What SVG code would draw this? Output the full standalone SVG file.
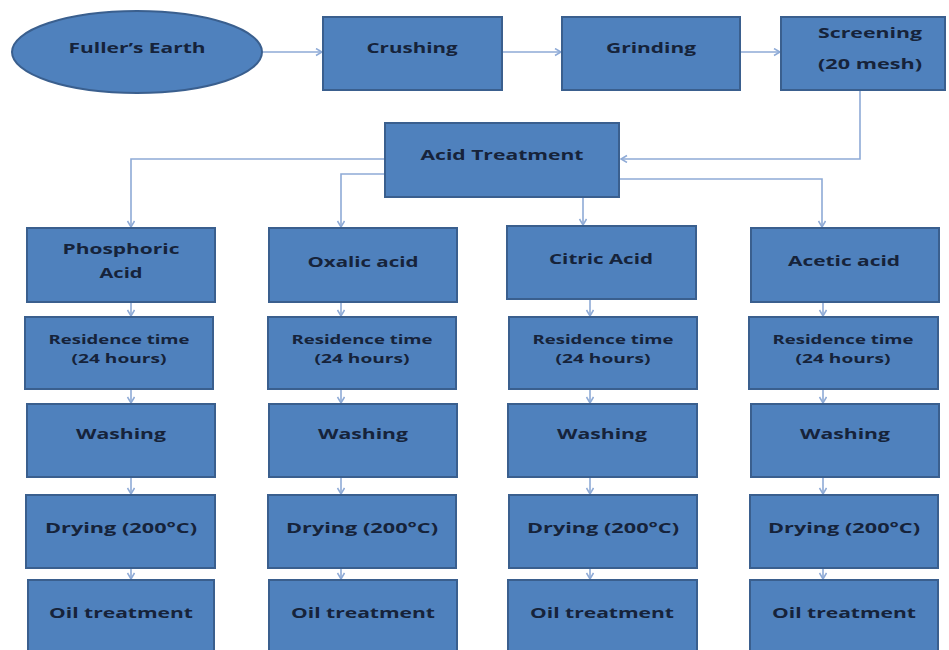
<svg xmlns="http://www.w3.org/2000/svg" width="949" height="650" viewBox="0 0 949 650">
<defs>
<marker id="ah" markerWidth="10" markerHeight="10" refX="7" refY="4" orient="auto" markerUnits="userSpaceOnUse">
<path d="M1,0.5 L7,4 L1,7.5" fill="none" stroke="#8eaad6" stroke-width="1.5"/>
</marker>
<style>
.b{fill:#4f81bd;stroke:#3a5f8e;stroke-width:2}
.t{font-family:"Open Sans","Liberation Sans",sans-serif;font-weight:700;font-size:15px;fill:#16233a;text-anchor:middle}
.s{font-size:13px}
.c{fill:none;stroke:#8eaad6;stroke-width:1.6;marker-end:url(#ah)}
</style>
</defs>
<rect width="949" height="650" fill="#ffffff"/>
<g id="connectors">
<path class="c" d="M263,52 L322,52"/>
<path class="c" d="M502,52 L561,52"/>
<path class="c" d="M740,52 L780,52"/>
<path class="c" d="M860,90 L860,159 L621,159"/>
<path class="c" d="M385,159 L131,159 L131,227"/>
<path class="c" d="M385,174 L341,174 L341,227"/>
<path class="c" d="M583,197 L583,225"/>
<path class="c" d="M619,179 L822,179 L822,227"/>
<path class="c" d="M131,302 L131,316"/>
<path class="c" d="M131,389 L131,403"/>
<path class="c" d="M131,477 L131,494"/>
<path class="c" d="M131,568 L131,579"/>
<path class="c" d="M341,302 L341,316"/>
<path class="c" d="M341,389 L341,403"/>
<path class="c" d="M341,477 L341,494"/>
<path class="c" d="M341,568 L341,579"/>
<path class="c" d="M590,299 L590,316"/>
<path class="c" d="M590,389 L590,403"/>
<path class="c" d="M590,477 L590,494"/>
<path class="c" d="M590,568 L590,579"/>
<path class="c" d="M823,302 L823,316"/>
<path class="c" d="M823,389 L823,403"/>
<path class="c" d="M823,477 L823,494"/>
<path class="c" d="M823,568 L823,579"/>
</g>
<g id="fullers-earth"><ellipse class="b" cx="137" cy="52" rx="125" ry="41"/><text class="t" x="137" y="53" textLength="137" lengthAdjust="spacingAndGlyphs">Fuller’s Earth</text></g>
<g id="crushing"><rect class="b" x="323" y="17" width="179" height="73"/><text class="t" x="412" y="53" textLength="91" lengthAdjust="spacingAndGlyphs">Crushing</text></g>
<g id="grinding"><rect class="b" x="562" y="17" width="178" height="73"/><text class="t" x="651" y="53" textLength="90" lengthAdjust="spacingAndGlyphs">Grinding</text></g>
<g id="screening"><rect class="b" x="781" y="17" width="164" height="73"/><text class="t" x="870" y="38" textLength="104" lengthAdjust="spacingAndGlyphs">Screening</text><text class="t" x="870" y="69" textLength="104" lengthAdjust="spacingAndGlyphs">(20 mesh)</text></g>
<g id="acid-treatment"><rect class="b" x="385" y="123" width="234" height="74"/><text class="t" x="502" y="160" textLength="163" lengthAdjust="spacingAndGlyphs">Acid Treatment</text></g>
<g id="phosphoric"><rect class="b" x="27" y="228" width="188" height="74"/><text class="t" x="121" y="254" textLength="117" lengthAdjust="spacingAndGlyphs">Phosphoric</text><text class="t" x="121" y="278" textLength="43" lengthAdjust="spacingAndGlyphs">Acid</text></g>
<g id="oxalic"><rect class="b" x="269" y="228" width="188" height="74"/><text class="t" x="363" y="267" textLength="111" lengthAdjust="spacingAndGlyphs">Oxalic acid</text></g>
<g id="citric"><rect class="b" x="507" y="226" width="189" height="73"/><text class="t" x="601" y="264" textLength="104" lengthAdjust="spacingAndGlyphs">Citric Acid</text></g>
<g id="acetic"><rect class="b" x="751" y="228" width="188" height="74"/><text class="t" x="844" y="266" textLength="112" lengthAdjust="spacingAndGlyphs">Acetic acid</text></g>
<g id="residence-1"><rect class="b" x="25" y="317" width="188" height="72"/><text class="t s" x="119" y="344" textLength="141" lengthAdjust="spacingAndGlyphs">Residence time</text><text class="t s" x="119" y="363" textLength="95" lengthAdjust="spacingAndGlyphs">(24 hours)</text></g>
<g id="residence-2"><rect class="b" x="268" y="317" width="188" height="72"/><text class="t s" x="362" y="344" textLength="141" lengthAdjust="spacingAndGlyphs">Residence time</text><text class="t s" x="362" y="363" textLength="95" lengthAdjust="spacingAndGlyphs">(24 hours)</text></g>
<g id="residence-3"><rect class="b" x="509" y="317" width="188" height="72"/><text class="t s" x="603" y="344" textLength="141" lengthAdjust="spacingAndGlyphs">Residence time</text><text class="t s" x="603" y="363" textLength="95" lengthAdjust="spacingAndGlyphs">(24 hours)</text></g>
<g id="residence-4"><rect class="b" x="749" y="317" width="189" height="72"/><text class="t s" x="843" y="344" textLength="141" lengthAdjust="spacingAndGlyphs">Residence time</text><text class="t s" x="843" y="363" textLength="95" lengthAdjust="spacingAndGlyphs">(24 hours)</text></g>
<g id="washing-1"><rect class="b" x="27" y="404" width="188" height="73"/><text class="t" x="121" y="439" textLength="90" lengthAdjust="spacingAndGlyphs">Washing</text></g>
<g id="washing-2"><rect class="b" x="269" y="404" width="188" height="73"/><text class="t" x="363" y="439" textLength="90" lengthAdjust="spacingAndGlyphs">Washing</text></g>
<g id="washing-3"><rect class="b" x="508" y="404" width="189" height="73"/><text class="t" x="602" y="439" textLength="90" lengthAdjust="spacingAndGlyphs">Washing</text></g>
<g id="washing-4"><rect class="b" x="751" y="404" width="188" height="73"/><text class="t" x="845" y="439" textLength="90" lengthAdjust="spacingAndGlyphs">Washing</text></g>
<g id="drying-1"><rect class="b" x="26" y="495" width="189" height="73"/><text class="t" x="121" y="533" textLength="152" lengthAdjust="spacingAndGlyphs">Drying (200°C)</text></g>
<g id="drying-2"><rect class="b" x="268" y="495" width="188" height="73"/><text class="t" x="362" y="533" textLength="152" lengthAdjust="spacingAndGlyphs">Drying (200°C)</text></g>
<g id="drying-3"><rect class="b" x="509" y="495" width="188" height="73"/><text class="t" x="603" y="533" textLength="152" lengthAdjust="spacingAndGlyphs">Drying (200°C)</text></g>
<g id="drying-4"><rect class="b" x="750" y="495" width="188" height="73"/><text class="t" x="844" y="533" textLength="152" lengthAdjust="spacingAndGlyphs">Drying (200°C)</text></g>
<g id="oil-1"><rect class="b" x="28" y="580" width="186" height="75"/><text class="t" x="121" y="618" textLength="144" lengthAdjust="spacingAndGlyphs">Oil treatment</text></g>
<g id="oil-2"><rect class="b" x="269" y="580" width="188" height="75"/><text class="t" x="363" y="618" textLength="144" lengthAdjust="spacingAndGlyphs">Oil treatment</text></g>
<g id="oil-3"><rect class="b" x="508" y="580" width="189" height="75"/><text class="t" x="602" y="618" textLength="144" lengthAdjust="spacingAndGlyphs">Oil treatment</text></g>
<g id="oil-4"><rect class="b" x="750" y="580" width="188" height="75"/><text class="t" x="844" y="618" textLength="144" lengthAdjust="spacingAndGlyphs">Oil treatment</text></g>
</svg>
